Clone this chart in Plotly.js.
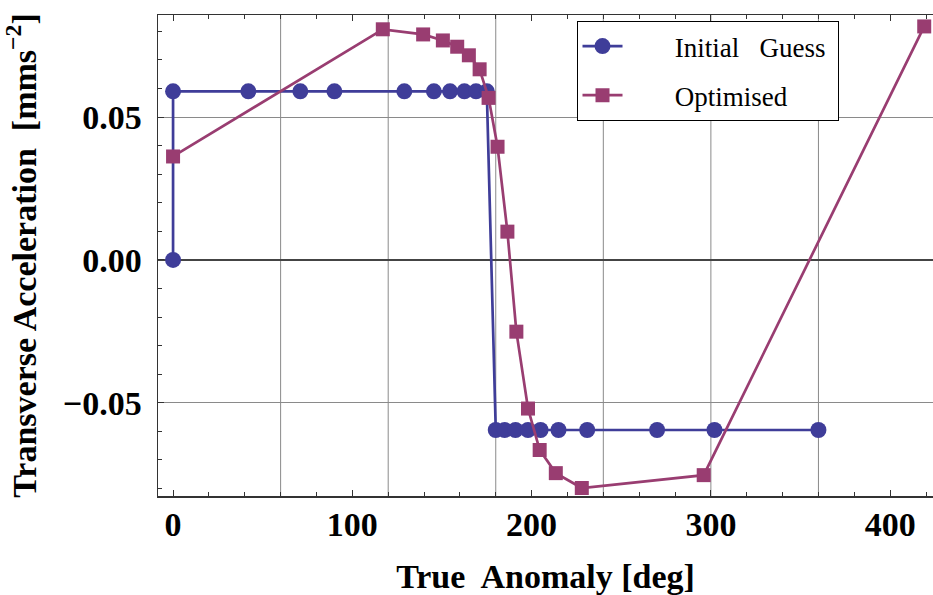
<!DOCTYPE html>
<html>
<head>
<meta charset="utf-8">
<script src="https://cdn.plot.ly/plotly-3.0.1.min.js"></script>
<style>
  html, body { margin: 0; padding: 0; background: #fff; }
  #chart { width: 933px; height: 595px; }
</style>
</head>
<body>
<div id="chart"></div>
<script>
// True anomaly (deg) and transverse acceleration (mm s^-2) for the two thrust profiles
var guessAnomaly = [0, 0, 42, 71, 90, 129, 145.5, 154.5, 162.5, 169, 175,
                    180, 185, 191, 198, 205, 215, 231, 270, 302, 360];
var guessAccel = [0, 0.059, 0.059, 0.059, 0.059, 0.059, 0.059, 0.059, 0.059, 0.059, 0.059,
                  -0.0595, -0.0595, -0.0595, -0.0595, -0.0595, -0.0595, -0.0595, -0.0595, -0.0595, -0.0595];

var optAnomaly = [0, 117, 139.5, 150.5, 158.5, 165, 171, 176, 181, 186.5, 191.5,
                  198, 204.5, 213.5, 228, 296, 419];
var optAccel = [0.0362, 0.0807, 0.0789, 0.0768, 0.0746, 0.0716, 0.0667, 0.0567, 0.0396, 0.0099, -0.0251,
                -0.0520, -0.0665, -0.0746, -0.0798, -0.0753, 0.0817];

var seriesNames = ['Initial\u00a0\u00a0\u00a0Guess', 'Optimised'];
var xTickVals = [0, 100, 200, 300, 400];
var yTickVals = [-0.05, 0, 0.05];

var BLUE = '#3F3D99';
var PURPLE = '#993D71';
var FONT = 'Liberation Serif, Times New Roman, serif';
var PAD = '\u00a0\u00a0\u00a0\u00a0\u00a0\u00a0\u00a0';

var traces = [
  {
    x: guessAnomaly, y: guessAccel, name: PAD + seriesNames[0] + '\u00a0',
    mode: 'lines+markers', type: 'scatter', legendgroup: 'a',
    line: { color: BLUE, width: 2.7 },
    marker: { symbol: 'circle', size: 16, color: BLUE },
    cliponaxis: false
  },
  {
    x: optAnomaly, y: optAccel, name: PAD + seriesNames[1],
    mode: 'lines+markers', type: 'scatter', legendgroup: 'b',
    line: { color: PURPLE, width: 2.7 },
    marker: { symbol: 'square', size: 14, color: PURPLE },
    cliponaxis: false
  }
];

// vertical grid every 60 degrees across one orbit
var gridShapes = [];
for (var g = 60; g <= 360; g += 60) {
  gridShapes.push({
    type: 'line', xref: 'x', yref: 'paper', x0: g, x1: g, y0: 0, y1: 1,
    line: { color: '#8a8a8a', width: 1 }, layer: 'below'
  });
}

var layout = {
  width: 933, height: 595,
  margin: { l: 158, r: 0, t: 15, b: 99 },
  paper_bgcolor: '#fff', plot_bgcolor: '#fff',
  font: { family: FONT, color: '#000' },
  showlegend: true,
  legend: {
    x: 0.54, y: 0.9875, xanchor: 'left', yanchor: 'top',
    bgcolor: '#fff', bordercolor: '#000', borderwidth: 1,
    font: { family: FONT, size: 27, color: '#000' },
    traceorder: 'grouped', tracegroupgap: 11,
    itemwidth: 40
  },
  xaxis: {
    range: [-8.4, 423.9],
    tickvals: xTickVals, ticktext: xTickVals.map(String),
    ticks: 'inside', ticklen: 6, tickcolor: '#333', tickwidth: 1,
    minor: { dtick: 20, tick0: 0, ticks: 'inside', ticklen: 4, tickcolor: '#333', showgrid: false },
    showgrid: false, zeroline: false,
    showline: true, linecolor: '#333', linewidth: 1.5, mirror: 'allticks',
    tickfont: { family: FONT, size: 34, color: '#000', weight: 'bold' },
    ticklabelstandoff: -2,
    title: { text: 'True\u00a0 Anomaly [deg]', font: { family: FONT, size: 34, color: '#000', weight: 'bold' }, standoff: 24 }
  },
  yaxis: {
    range: [-0.0826, 0.0857],
    tickvals: yTickVals, tickformat: '.2f',
    ticks: 'inside', ticklen: 6, tickcolor: '#333', tickwidth: 1,
    minor: { dtick: 0.01, tick0: 0, ticks: 'inside', ticklen: 4, tickcolor: '#333', showgrid: false },
    showgrid: true, gridcolor: '#8a8a8a', gridwidth: 1,
    zeroline: true, zerolinecolor: '#444', zerolinewidth: 1.2,
    showline: true, linecolor: '#333', linewidth: 1.5, mirror: false,
    tickfont: { family: FONT, size: 34, color: '#000', weight: 'bold' },
    ticklabelstandoff: 8,
    title: { text: 'Transverse Acceleration\u00a0 [mms<sup>\u22122</sup>]', font: { family: FONT, size: 34, color: '#000', weight: 'bold' }, standoff: 16 }
  },
  shapes: gridShapes
};

Plotly.newPlot('chart', traces, layout, { displayModeBar: false, staticPlot: true });
</script>
</body>
</html>
